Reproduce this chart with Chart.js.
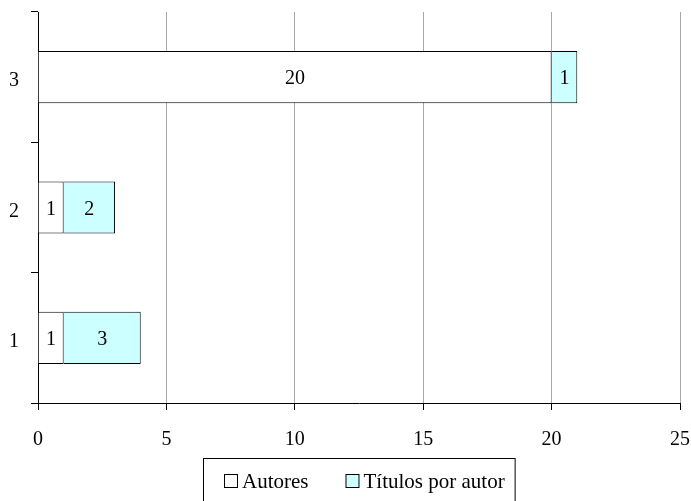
<!DOCTYPE html>
<html>
<head>
<meta charset="utf-8">
<script src="https://cdn.jsdelivr.net/npm/chart.js@4"></script>
<style>
  body { margin: 0; background: #fff; }
  #wrap { width: 691px; height: 501px; position: relative; }
</style>
</head>
<body>
<div id="wrap"><canvas id="chart"></canvas></div>
<script>
// data
const categories = ['1', '2', '3'];
const autores = [1, 1, 20];
const titulosPorAutor = [3, 2, 1];
const xTicks = [0, 5, 10, 15, 20, 25];

const FONT = "'Liberation Serif', 'DejaVu Serif', serif";

// write each value in the middle of its bar
const valueLabels = {
  id: 'valueLabels',
  afterDatasetsDraw(chart) {
    const ctx = chart.ctx;
    ctx.save();
    ctx.font = '20px ' + FONT;
    ctx.fillStyle = '#000';
    ctx.textAlign = 'center';
    ctx.textBaseline = 'middle';
    chart.data.datasets.forEach((ds, i) => {
      chart.getDatasetMeta(i).data.forEach((bar, j) => {
        const p = bar.getProps(['x', 'y', 'base'], true);
        ctx.fillText(String(ds.data[j]), (p.x + p.base) / 2, p.y + 2);
      });
    });
    ctx.restore();
  }
};

// boxed legend under the axis, built from the datasets
const boxedLegend = {
  id: 'boxedLegend',
  afterDraw(chart) {
    const ctx = chart.ctx;
    const sets = chart.data.datasets;
    const sq = 13, gapText = 5, gapItem = 37, padL = 21, padR = 10;
    ctx.save();
    ctx.font = '21px ' + FONT;
    const widths = sets.map(ds => sq + gapText + ctx.measureText(ds.label).width);
    const total = widths.reduce((a, b) => a + b, 0) + gapItem * (sets.length - 1);
    let x = Math.round(364 - total / 2);
    const cy = 481;
    ctx.strokeStyle = '#000';
    ctx.lineWidth = 1;
    ctx.strokeRect(x - padL + 0.5, 458.5, total + padL + padR, 60);
    ctx.textBaseline = 'middle';
    ctx.textAlign = 'left';
    sets.forEach((ds, i) => {
      ctx.fillStyle = ds.backgroundColor;
      ctx.fillRect(x + 0.5, cy - 6.5, sq, sq);
      ctx.strokeRect(x + 0.5, cy - 6.5, sq, sq);
      ctx.fillStyle = '#000';
      ctx.fillText(ds.label, x + sq + gapText, cy + 1);
      x += widths[i] + gapItem;
    });
    ctx.restore();
  }
};

new Chart(document.getElementById('chart'), {
  type: 'bar',
  data: {
    labels: categories,
    datasets: [
      {
        label: 'Autores',
        data: autores,
        backgroundColor: '#ffffff',
        borderColor: '#000',
        borderWidth: 1,
        barPercentage: 0.4,
        categoryPercentage: 1
      },
      {
        label: 'Títulos por autor',
        data: titulosPorAutor,
        backgroundColor: '#ccffff',
        borderColor: '#000',
        borderWidth: 1,
        barPercentage: 0.4,
        categoryPercentage: 1
      }
    ]
  },
  options: {
    indexAxis: 'y',
    responsive: true,
    maintainAspectRatio: false,
    animation: false,
    layout: { padding: { top: 12, right: 11, left: 0, bottom: 53 } },
    scales: {
      x: {
        stacked: true,
        min: 0,
        max: 25,
        afterBuildTicks: axis => { axis.ticks = xTicks.map(v => ({ value: v })); },
        afterFit: scale => {
          scale.height = 45;
          scale.paddingLeft = 0;
          scale.paddingRight = 0;
        },
        grid: { color: '#a8a8a8', tickColor: '#000', tickLength: 7 },
        border: { display: true, color: '#000' },
        ticks: { color: '#000', padding: 18, maxRotation: 0, font: { family: FONT, size: 20 } }
      },
      y: {
        stacked: true,
        reverse: true,
        afterFit: scale => {
          scale.width = 38;
          scale.paddingTop = 0;
          scale.paddingBottom = 0;
        },
        grid: { offset: true, drawOnChartArea: false, tickColor: '#000', tickLength: 7 },
        border: { display: true, color: '#000' },
        ticks: { color: '#000', padding: 12, labelOffset: 4, font: { family: FONT, size: 20 } }
      }
    },
    plugins: {
      tooltip: { enabled: false },
      legend: { display: false }
    }
  },
  plugins: [valueLabels, boxedLegend]
});
</script>
</body>
</html>
